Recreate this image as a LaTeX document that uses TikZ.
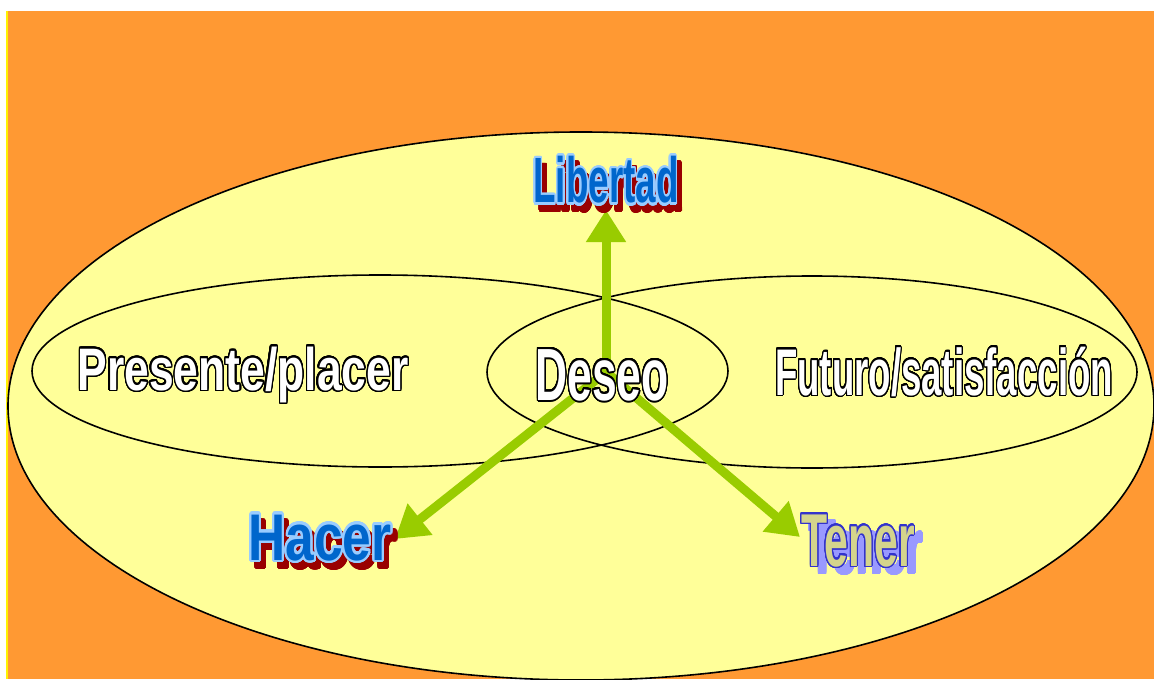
\documentclass[tikz,border=0pt]{standalone}
\usepackage{fontspec}
\setmainfont{Liberation Sans}
\usepackage{xcolor}
\usepackage{graphicx}
\usepackage{contour}
\usepackage{tikz}
\usetikzlibrary{arrows.meta}
\definecolor{fondo}{HTML}{FF9933}
\definecolor{crema}{HTML}{FFFF99}
\definecolor{verde}{HTML}{99CC00}
\definecolor{azul}{HTML}{0066CC}
\definecolor{celeste}{HTML}{99CCFF}
\definecolor{granate}{HTML}{990000}
\definecolor{caqui}{HTML}{D4D48C}
\definecolor{anil}{HTML}{3333CC}
\definecolor{lila}{HTML}{9999FF}
\contournumber{32}
\newcommand{\trazo}[3]{\scalebox{#2}[1]{\contour{#1}{#3}}}

\begin{document}
\begin{tikzpicture}[x=0.5pt,y=-0.5pt,
	flecha/.style={line width=4.5pt,verde,-{Triangle[length=16pt,width=19pt]}},
	palabra/.style={anchor=base,inner sep=0pt,font=\bfseries\fontsize{#1}{#1}\selectfont}]
	\useasboundingbox (0,0) rectangle (1154,679);
	\fill[white] (0,0) rectangle (1154,679);
	\fill[yellow] (6,11) rectangle (8,679);
	\fill[fondo] (8,11) rectangle (1154,679);
	% elipses
	\filldraw[fill=crema,draw=black,line width=0.8pt] (581,406) ellipse [x radius=573,y radius=274];
	\draw[line width=0.8pt] (380,371) ellipse [x radius=348,y radius=96];
	\draw[line width=0.8pt] (812,372) ellipse [x radius=325,y radius=96];
	% flechas
	\coordinate (centro) at (606,372);
	\coordinate (plib) at (606,210);
	\coordinate (phac) at (395,539);
	\coordinate (pten) at (800,537);
	\draw[flecha] (centro) -- (plib);
	\draw[flecha] (centro) -- (phac);
	\draw[flecha] (centro) -- (pten);
	% textos
	\node[palabra=30,text=white] (pres) at (243,390) {\contourlength{0.9pt}\trazo{black}{0.74}{Presente/placer}};
	\node[palabra=33,text=white] (fut) at (944,395) {\contourlength{0.9pt}\trazo{black}{0.555}{Futuro/satisfacción}};
	\node[palabra=37,text=white] (deseo) at (602,400) {\contourlength{1pt}\trazo{black}{0.6}{Deseo}};
	\node[palabra=32,text=granate] (libs) at (611,210) {\contourlength{1.3pt}\trazo{granate}{0.575}{Libertad}};
	\node[palabra=32,text=azul] (lib) at (606,203) {\contourlength{1.3pt}\trazo{celeste}{0.575}{Libertad}};
	\node[palabra=33,text=granate] (hacs) at (325,567) {\contourlength{1.3pt}\trazo{granate}{0.78}{Hacer}};
	\node[palabra=33,text=azul] (hac) at (320,560) {\contourlength{1.3pt}\trazo{celeste}{0.78}{Hacer}};
	\node[palabra=37.5,text=lila] (tens) at (866,573) {\contourlength{0.9pt}\trazo{lila}{0.57}{Tener}};
	\node[palabra=37.5,text=caqui] (ten) at (858,566) {\contourlength{0.9pt}\trazo{anil}{0.57}{Tener}};
\end{tikzpicture}
\end{document}
